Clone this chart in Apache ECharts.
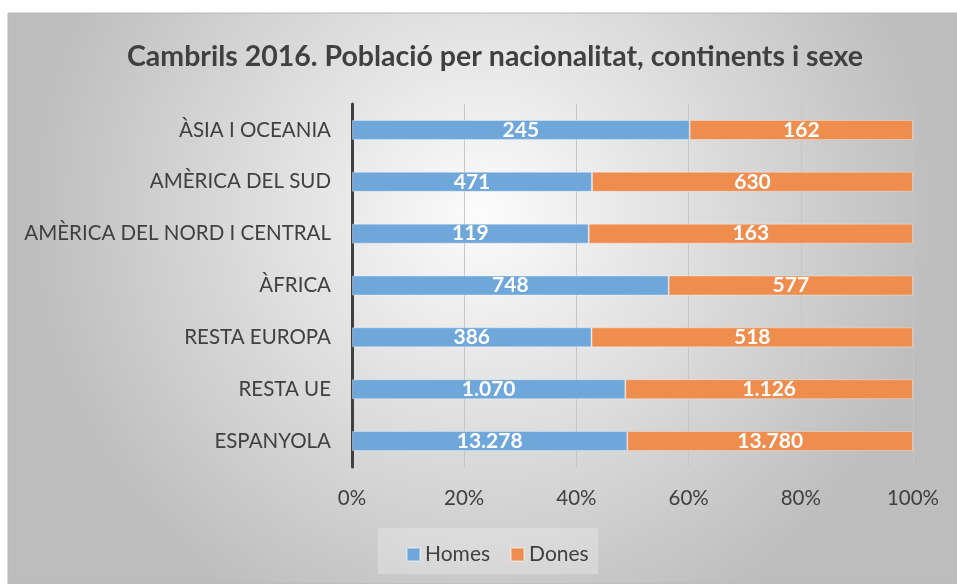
<!DOCTYPE html>
<html>
<head>
<meta charset="utf-8">
<script src="https://cdn.jsdelivr.net/npm/echarts@6/dist/echarts.min.js"></script>
<style>
  html, body { margin: 0; padding: 0; background: #fff; }
</style>
</head>
<body>
<div id="chart" style="width: 957px; height: 584px;"></div>
<script>
// categories bottom to top (ECharts category y axis starts at bottom)
const categories = ['ESPANYOLA', 'RESTA UE', 'RESTA EUROPA', 'ÀFRICA', 'AMÈRICA DEL NORD I CENTRAL', 'AMÈRICA DEL SUD', 'ÀSIA I OCEANIA']
const homes = [13278, 1070, 386, 748, 119, 471, 245]
const dones = [13780, 1126, 518, 577, 163, 630, 162]
const xTicks = ['0%', '20%', '40%', '60%', '80%', '100%']

const FONT = 'Lato'
const textColor = '#404040'

function fmt(n) {
  return String(n).replace(/\B(?=(\d{3})+(?!\d))/g, '.')
}

// share of each row, the bars are 100% stacked
const homesPct = homes.map((h, i) => h / (h + dones[i]) * 100)
const donesPct = dones.map((d, i) => d / (homes[i] + d) * 100)

const chart = echarts.init(document.getElementById('chart'))

const labelStyle = {
  show: true,
  position: 'inside',
  color: '#fff',
  fontFamily: FONT,
  fontWeight: 'bold',
  fontSize: 21
}

chart.setOption({
  animation: false,
  graphic: [
    {
      type: 'rect',
      z: -10,
      shape: { x: 8, y: 13, width: 949, height: 571 },
      style: {
        fill: new echarts.graphic.RadialGradient(0.5, 0.35, 0.8, [
          { offset: 0, color: '#fcfcfc' },
          { offset: 1, color: '#bdbdbd' }
        ]),
        stroke: '#b8b8b8',
        lineWidth: 1
      },
      silent: true
    },
    {
      type: 'rect',
      z: -5,
      shape: { x: 378, y: 528, width: 220, height: 46 },
      style: { fill: 'rgba(255,255,255,0.25)' },
      silent: true
    }
  ],
  title: {
    text: 'Cambrils 2016. Població per nacionalitat, continents i sexe',
    left: 490,
    textAlign: 'center',
    top: 37,
    textStyle: {
      fontFamily: FONT,
      fontWeight: 'bold',
      fontSize: 28.5,
      color: textColor
    }
  },
  legend: {
    top: 539,
    left: 401,
    itemWidth: 13,
    itemHeight: 13,
    itemGap: 20,
    icon: 'rect',
    textStyle: { fontFamily: FONT, fontSize: 21, color: textColor },
    data: ['Homes', 'Dones']
  },
  grid: {
    left: 352,
    right: 44,
    top: 104,
    bottom: 117
  },
  xAxis: {
    type: 'value',
    min: 0,
    max: 100,
    interval: 20,
    axisLine: { show: false },
    axisTick: { show: false },
    splitLine: { lineStyle: { color: '#c6c6c6', width: 1 } },
    axisLabel: {
      margin: 21,
      fontFamily: FONT,
      fontSize: 20.5,
      color: textColor,
      formatter: v => xTicks[v / 20]
    }
  },
  yAxis: {
    type: 'category',
    data: categories,
    axisLine: { lineStyle: { color: '#404040', width: 3 } },
    axisTick: { show: false },
    axisLabel: {
      margin: 21,
      fontFamily: FONT,
      fontSize: 20.5,
      color: textColor
    }
  },
  series: [
    {
      name: 'Homes',
      type: 'bar',
      stack: 'total',
      barWidth: 20,
      data: homesPct,
      itemStyle: { color: '#6fa7da', borderColor: 'rgba(255,255,255,0.35)', borderWidth: 1 },
      label: Object.assign({}, labelStyle, { formatter: p => fmt(homes[p.dataIndex]) })
    },
    {
      name: 'Dones',
      type: 'bar',
      stack: 'total',
      barWidth: 20,
      data: donesPct,
      itemStyle: { color: '#ee8d4d', borderColor: 'rgba(255,255,255,0.35)', borderWidth: 1 },
      label: Object.assign({}, labelStyle, { formatter: p => fmt(dones[p.dataIndex]) })
    }
  ]
})
</script>
</body>
</html>
